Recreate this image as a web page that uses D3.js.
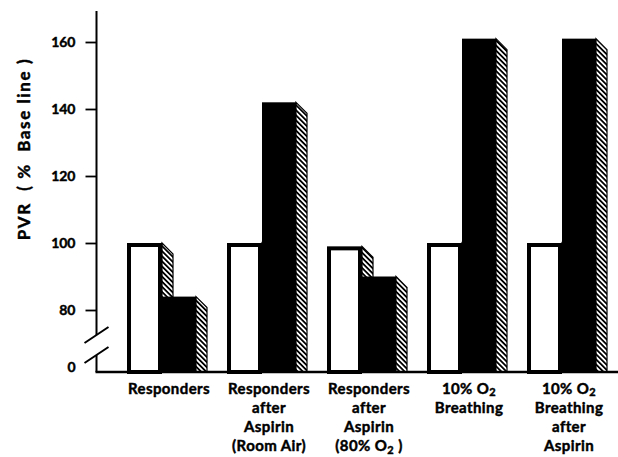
<!DOCTYPE html>
<html>
<head>
<meta charset="utf-8">
<script src="https://cdn.jsdelivr.net/npm/d3@7"></script>
<style>
body { margin: 0; background: #fff; }
text { font-family: Lato, "DejaVu Sans", sans-serif; font-weight: 700; fill: #000; stroke: #000; stroke-width: 0.45px; }
</style>
</head>
<body>
<svg id="drawing_region"></svg>
<script>
// group labels, one entry per line ("_2" = subscript 2)
const categories = [
    ["Responders"],
    ["Responders", "after", "Aspirin", "(Room Air)"],
    ["Responders", "after", "Aspirin", "(80% O_2 )"],
    ["10% O_2", "Breathing"],
    ["10% O_2", "Breathing", "after", "Aspirin"]
];
const baselineValues = [100, 100, 99, 100, 100];   // white bars
const challengeValues = [84, 142, 90, 161, 161];   // black bars
const tickValues = [0, 80, 100, 120, 140, 160];
const yTitle = "PVR  ( %  Base line )";

const width = 618, height = 457;
const axisX = 96.5, baseY = 372, topY = 11;
const depth = 11;

const svg = d3.select('#drawing_region')
    .attr('width', width)
    .attr('height', height);

// hatch for the 3d side faces
const pat = svg.append('defs').append('pattern')
    .attr('id', 'hatch')
    .attr('patternUnits', 'userSpaceOnUse')
    .attr('width', 3.6)
    .attr('height', 3.6)
    .attr('patternTransform', 'rotate(45)');
pat.append('rect').attr('width', 3.6).attr('height', 3.6).attr('fill', '#fff');
pat.append('line')
    .attr('x1', 0).attr('y1', 1.8).attr('x2', 3.6).attr('y2', 1.8)
    .attr('stroke', '#000').attr('stroke-width', 1.8);

const x = d3.scaleBand()
    .domain(d3.range(categories.length))
    .range([96, 628])
    .paddingInner(0.3)
    .paddingOuter(0.31);

const xs = d3.scaleBand()
    .domain(['base', 'chal'])
    .range([0, x.bandwidth()]);

// broken axis: 0 sits just below the break, 80..160 linear
const y = d3.scaleLinear()
    .domain([0, 80, 160])
    .range([baseY, 310, 42]);

const sidePoints = (x0, v) => {
    const xr = x0 + xs.bandwidth(), yt = y(v);
    return [[xr, yt], [xr + depth, yt + depth], [xr + depth, baseY], [xr, baseY]]
        .map(p => p.join(',')).join(' ');
};

const groups = svg.append('g').selectAll('g')
    .data(categories.map((c, i) => ({i: i, base: baselineValues[i], chal: challengeValues[i]})))
    .join('g');

// white bar: side, then front
groups.append('polygon')
    .attr('points', d => sidePoints(x(d.i) + xs('base'), d.base))
    .attr('fill', 'url(#hatch)')
    .attr('stroke', '#000')
    .attr('stroke-width', 1.2);

groups.append('rect')
    .attr('x', d => x(d.i) + xs('base') + 2)
    .attr('y', d => y(d.base) + 2)
    .attr('width', xs.bandwidth() - 4)
    .attr('height', d => baseY - y(d.base) - 2)
    .attr('fill', '#fff')
    .attr('stroke', '#000')
    .attr('stroke-width', 4);

// black bar: side, then front
groups.append('polygon')
    .attr('points', d => sidePoints(x(d.i) + xs('chal') - 1, d.chal))
    .attr('fill', 'url(#hatch)')
    .attr('stroke', '#000')
    .attr('stroke-width', 1.2);

groups.append('rect')
    .attr('x', d => x(d.i) + xs('chal'))
    .attr('y', d => y(d.chal))
    .attr('width', xs.bandwidth() - 1)
    .attr('height', d => baseY - y(d.chal))
    .attr('fill', '#000');

// y axis
const yaxis = d3.axisLeft(y)
    .tickValues(tickValues)
    .tickSize(11)
    .tickPadding(10);

const yaxis_group = svg.append('g')
    .attr('transform', `translate(${axisX}, 0)`)
    .call(yaxis);
yaxis_group.select('.domain').remove();
yaxis_group.selectAll('.tick line').attr('stroke', '#000').attr('stroke-width', 1.8);
yaxis_group.selectAll('.tick').filter(d => d === 0).select('line').remove();
yaxis_group.selectAll('.tick text')
    .attr('font-family', null)
    .attr('font-size', 14);
yaxis_group.selectAll('.tick').filter(d => d === 0).select('text').attr('dy', '-0.05em');

// axis line with a gap for the break
const brk1 = y(80) + 25, brk2 = y(80) + 45;
svg.append('path')
    .attr('d', `M${axisX},${topY}V${brk1}M${axisX},${brk2}V${baseY}`)
    .attr('stroke', '#000')
    .attr('stroke-width', 2)
    .attr('fill', 'none');

svg.selectAll('.brk')
    .data([brk1, brk2])
    .join('line')
    .attr('x1', axisX - 12).attr('y1', d => d + 8)
    .attr('x2', axisX + 12).attr('y2', d => d - 8)
    .attr('stroke', '#000')
    .attr('stroke-width', 2);

// base line
svg.append('line')
    .attr('x1', axisX - 1).attr('x2', width)
    .attr('y1', baseY).attr('y2', baseY)
    .attr('stroke', '#000')
    .attr('stroke-width', 2.5);

// y title
svg.append('text')
    .attr('transform', 'translate(30, 149) rotate(-90)')
    .attr('text-anchor', 'middle')
    .attr('font-size', 17)
    .attr('letter-spacing', 1.6)
    .style('white-space', 'pre')
    .text(yTitle);

// category labels
const labels = svg.append('g').selectAll('text')
    .data(categories.flatMap((lines, i) => lines.map((t, j) => ({i: i, j: j, t: t}))))
    .join('text')
    .attr('x', d => x(d.i) + x.bandwidth() / 2 + 7)
    .attr('y', d => 393.5 + d.j * 19.3)
    .attr('text-anchor', 'middle')
    .attr('font-size', 15)
    .attr('letter-spacing', 0.4)
    .style('white-space', 'pre');

labels.each(function(d) {
    const el = d3.select(this);
    const parts = d.t.split('_2');
    parts.forEach((p, k) => {
        if (k > 0) {
            el.append('tspan').attr('dy', 2.5).attr('font-size', 11).text('2');
            if (p.length) el.append('tspan').attr('dy', -2.5).text(p);
        } else {
            el.append('tspan').text(p);
        }
    });
});
</script>
</body>
</html>
